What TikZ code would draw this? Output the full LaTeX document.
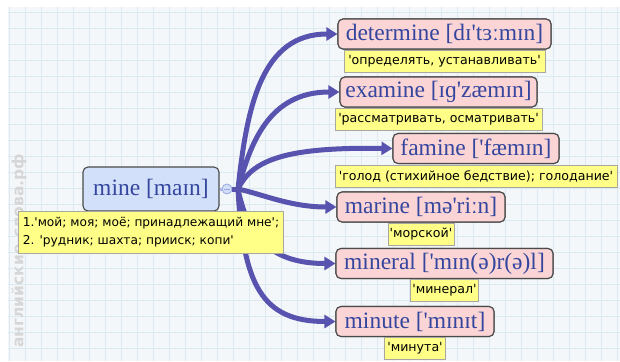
\documentclass[tikz,border=0pt]{standalone}
\usepackage{fontspec}
\setmainfont{Liberation Serif}
\newfontfamily\wordface{Liberation Serif}
\newfontfamily\noteface{DejaVu Sans}
\newfontfamily\markface{DejaVu Sans}
\usetikzlibrary{arrows.meta}
\definecolor{edgec}{HTML}{5753AE}
\definecolor{bgc}{HTML}{F4F7FA}
\definecolor{gridc}{HTML}{DDE9F1}
\definecolor{wordtext}{HTML}{34469E}
\definecolor{pinkfill}{HTML}{FBD5D5}
\definecolor{bluefill}{HTML}{D3E0FA}
\definecolor{boxline}{HTML}{4A4A4A}
\definecolor{notefill}{HTML}{FFFF88}
\definecolor{noteline}{HTML}{A8A8A0}
\definecolor{markc}{HTML}{D6D6D6}
\definecolor{togfill}{HTML}{D3DFF8}
\definecolor{togline}{HTML}{94A8E2}
\definecolor{stubc}{HTML}{A9B9EA}
\begin{document}
\begin{tikzpicture}[x=1pt,y=-1pt,
  wordbox/.style={draw=boxline, line width=1.1pt, rounded corners=5pt, fill=pinkfill,
    font=\wordface\fontsize{23.5}{25}\selectfont, text=wordtext, minimum height=30pt, inner sep=0pt},
  notebox/.style={draw=noteline, line width=0.7pt, fill=notefill,
    font=\noteface\fontsize{12.6}{18}\selectfont, text=black, minimum height=22pt, inner xsep=1.5pt, inner ysep=2pt, anchor=north},
  edge/.style={draw=edgec, line width=5pt, -{Triangle[length=11pt,width=13pt]}}
]
\useasboundingbox (0,0) rectangle (620,361);
\fill[white] (0,0) rectangle (620,361);
\fill[bgc] (8,7) rectangle (620,361);
\foreach \gx in {9,25,...,617} \draw[gridc, line width=0.8pt] (\gx,7) -- (\gx,361);
\foreach \gy in {12.5,28.5,...,360} \draw[gridc, line width=0.8pt] (8,\gy) -- (620,\gy);

% watermark
\node[rotate=90, font=\markface\bfseries\fontsize{15.5}{15.5}\selectfont, text=markc, inner sep=0pt] (mark) at (19,251) {английские-слова.рф};

\coordinate (hub) at (238,189);

% word boxes (named, positions)
\node[wordbox, minimum width=213pt] (det) at (444.5,34) {determine [dɪ'tɜːmɪn]};
\node[wordbox, minimum width=197pt] (exa) at (438.5,92) {examine [ɪɡ'zæmɪn]};
\node[wordbox, minimum width=166pt] (fam) at (476,148.5) {famine ['fæmɪn]};
\node[wordbox, minimum width=168pt] (mar) at (421,207) {marine [mə'riːn]};
\node[wordbox, minimum width=217pt] (mnl) at (444.5,263.5) {mineral ['mɪn(ə)r(ə)l]};
\node[wordbox, minimum width=158pt] (mnt) at (415,321.5) {minute ['mɪnɪt]};

% edges
\draw[edge] (hub) .. controls (247,105) and (262,34) .. (det.west);
\draw[edge] (hub) .. controls (250,145) and (268,92) .. (exa.west);
\draw[edge] (hub) .. controls (252,160) and (285,147) .. (fam.west);
\draw[edge] (hub) .. controls (262,194) and (290,207) .. (mar.west);
\draw[edge] (hub) .. controls (248,238) and (272,263.5) .. (mnl.west);
\draw[edge] (hub) .. controls (243,285) and (262,321.5) .. (mnt.west);

% redraw boxes over edge ends
\node[wordbox, minimum width=213pt] at (det) {determine [dɪ'tɜːmɪn]};
\node[wordbox, minimum width=197pt] at (exa) {examine [ɪɡ'zæmɪn]};
\node[wordbox, minimum width=166pt] at (fam) {famine ['fæmɪn]};
\node[wordbox, minimum width=168pt] at (mar) {marine [mə'riːn]};
\node[wordbox, minimum width=217pt] at (mnl) {mineral ['mɪn(ə)r(ə)l]};
\node[wordbox, minimum width=158pt] at (mnt) {minute ['mɪnɪt]};

\node[wordbox, fill=bluefill, minimum width=136pt, minimum height=44pt] (mine) at (151,189) {mine [maɪn]};
\node[circle, minimum size=10pt, inner sep=0pt, fill=togfill, draw=togline, line width=0.8pt] (tog) at (227,189) {};
\draw[stubc, line width=3pt] (mine.east) -- (tog.west);
\draw[edgec, line width=5pt] (tog.east) -- (hub);
\draw[togline, line width=0.9pt] ([xshift=-2.6pt]tog.center) -- ([xshift=2.6pt]tog.center);

% notes
\node[notebox, minimum width=201pt] (detn) at (det.south) {'определять, устанавливать'};
\node[notebox, minimum width=207pt] (exan) at (exa.south) {'рассматривать, осматривать'};
\node[notebox, minimum width=282pt] (famn) at ([yshift=-1pt]fam.south) {'голод (стихийное бедствие); голодание'};
\node[notebox, minimum width=66pt] (marn) at (mar.south) {'морской'};
\node[notebox, minimum width=66pt] (mnln) at (mnl.south) {'минерал'};
\node[notebox, minimum width=61pt] (mntn) at (mnt.south) {'минута'};
\node[notebox, font=\noteface\fontsize{12.2}{18}\selectfont, minimum width=265pt, minimum height=42pt, align=left] (minen) at ([yshift=1pt]mine.south) {1.'мой; моя; моё; принадлежащий мне';\\2. 'рудник; шахта; прииск; копи'};
\end{tikzpicture}
\end{document}
